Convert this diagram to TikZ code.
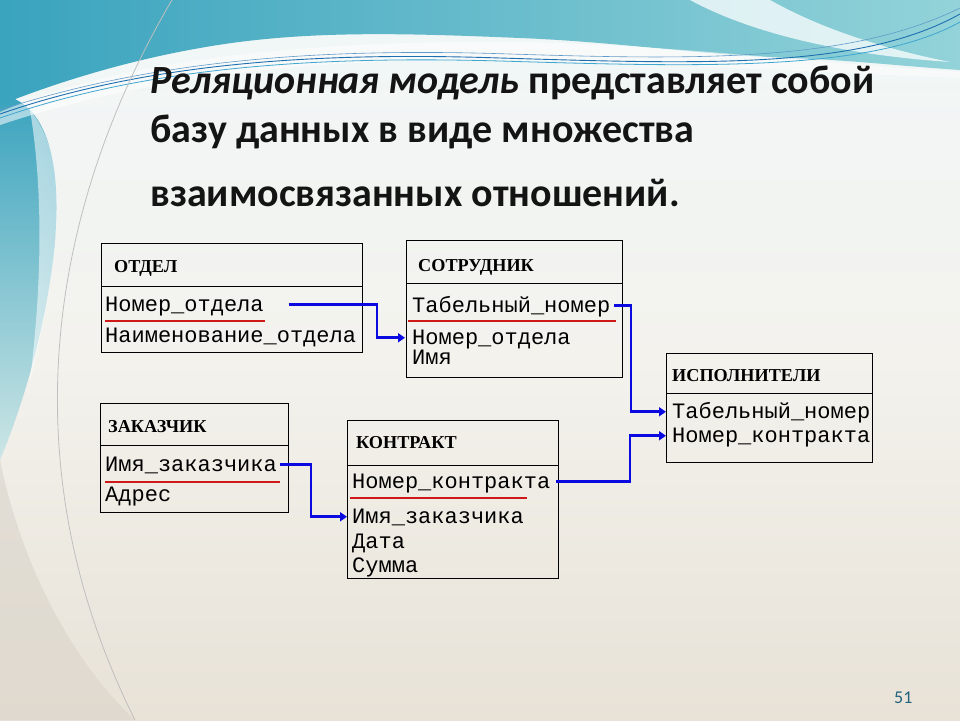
\documentclass[tikz,border=0pt]{standalone}
\usepackage{fontspec}
\setmainfont{Carlito}
\newfontfamily\monof{Liberation Mono}
\newfontfamily\hdrf{Liberation Serif}
\usetikzlibrary{arrows.meta}
\definecolor{tealdark}{HTML}{3AA3BE}
\definecolor{teallight}{HTML}{93D3D9}
\definecolor{bgtop}{HTML}{F1F7F8}
\definecolor{bgmid}{HTML}{F3F2ED}
\definecolor{bgbot}{HTML}{E8E2D7}
\definecolor{wave1}{HTML}{1E6FB0}
\definecolor{wave2}{HTML}{3FA6CF}
\definecolor{linkblue}{HTML}{0A0AE0}
\definecolor{keyred}{HTML}{D01818}
\definecolor{pgcol}{HTML}{22637E}
\begin{document}
\begin{tikzpicture}[x=1pt,y=-1pt,
  tbox/.style={draw=black, line width=1.3pt, anchor=north west, inner sep=0pt},
  sepline/.style={draw=black, line width=0.9pt},
  head/.style={font=\hdrf\bfseries\fontsize{18.2}{20}\selectfont, anchor=base west, inner sep=0pt},
  row/.style={font=\monof\fontsize{22}{24}\selectfont, anchor=base west, inner sep=0pt, text height=12.5pt, text depth=0pt},
  keyline/.style={draw=keyred, line width=1.3pt},
  link/.style={draw=linkblue, line width=2.6pt, -{Triangle[length=7pt,width=9pt]}},
  title/.style={font=\bfseries\fontsize{40}{44}\selectfont, anchor=base west, inner sep=0pt, text=black!92}
]
\useasboundingbox (0,0) rectangle (960,720);
% ---------- background ----------
\shade[top color=bgtop, bottom color=bgbot, middle color=bgmid] (0,0) rectangle (960,720);
% left teal strip
\shade[top color=tealdark, bottom color=teallight!40!bgmid] (0,95) .. controls (45,100) and (62,160) .. (55,240) .. controls (48,320) and (25,400) .. (0,460) -- cycle;
\shade[left color=white, right color=bgtop, opacity=0.55] (30,110) .. controls (55,140) and (62,190) .. (55,240) .. controls (50,300) and (40,340) .. (30,380) .. controls (40,300) and (45,200) .. (30,110) -- cycle;
% lower-left area beyond the arc
\fill[black!6!bgbot, opacity=0.6] (0,460) .. controls (20,560) and (70,660) .. (135,720) -- (0,720) -- cycle;
% top teal band
\shade[left color=tealdark, right color=teallight] (0,0) -- (960,0) -- (960,70) .. controls (900,66) and (850,60) .. (790,58) .. controls (700,55) and (620,42) .. (520,38) .. controls (400,33) and (300,30) .. (200,48) .. controls (120,62) and (50,85) .. (0,105) -- cycle;
% soft white below the band
\fill[white, opacity=0.55] (0,112) .. controls (120,60) and (300,40) .. (520,42) .. controls (680,45) and (820,64) .. (960,72) -- (960,78) .. controls (800,72) and (650,62) .. (500,60) .. controls (320,58) and (150,75) .. (0,125) -- cycle;
% white swoosh top right
\fill[white, opacity=0.75] (690,0) -- (770,0) .. controls (820,28) and (880,48) .. (950,62) .. controls (860,56) and (760,38) .. (690,0) -- cycle;
% thin wave lines
\draw[wave1, line width=0.9pt] (0,114) .. controls (150,62) and (320,52) .. (500,58) .. controls (700,64) and (860,70) .. (960,14);
\draw[wave2, line width=0.8pt] (0,118) .. controls (150,66) and (320,56) .. (500,61) .. controls (700,67) and (870,72) .. (960,22);
\draw[wave1!70, line width=0.6pt] (0,110) .. controls (160,58) and (330,48) .. (510,54) .. controls (700,60) and (850,62) .. (960,8);
% gray arc
\draw[black!25, line width=0.8pt] (172,0) .. controls (60,190) and (0,450) .. (135,720);
% ---------- title ----------
\node[title] (t1) at (150,93) {\textit{Реляционная модель} представляет собой};
\node[title] (t2) at (150,142) {базу данных в виде множества};
\node[title] (t3) at (150,206) {взаимосвязанных отношений.};
% ---------- ОТДЕЛ ----------
\node[tbox, minimum width=261pt, minimum height=109pt] (otdel) at (101,243) {};
\draw[sepline] ([yshift=-43pt]otdel.north west) -- ([yshift=-43pt]otdel.north east);
\node[head] (otdelh) at (114,272) {ОТДЕЛ};
\node[row] (o1) at (105,311) {Номер\_отдела};
\node[row] (o2) at (105,342) {Наименование\_отдела};
\draw[keyline] ([yshift=-10pt]o1.base west) -- ++(160,0);
% ---------- СОТРУДНИК ----------
\node[tbox, minimum width=216pt, minimum height=137pt] (sotr) at (406,240) {};
\draw[sepline] ([yshift=-43pt]sotr.north west) -- ([yshift=-43pt]sotr.north east);
\node[head] (sotrh) at (418,271) {СОТРУДНИК};
\node[row] (s1) at (412,312) {Табельный\_номер};
\node[row] (s2) at (412,344) {Номер\_отдела};
\node[row] (s3) at (412,364) {Имя};
\draw[keyline] ([xshift=-4pt,yshift=-9pt]s1.base west) -- ++(208,0);
% ---------- ЗАКАЗЧИК ----------
\node[tbox, minimum width=188pt, minimum height=109pt] (zak) at (100,403) {};
\draw[sepline] ([yshift=-42pt]zak.north west) -- ([yshift=-42pt]zak.north east);
\node[head] (zakh) at (108,432) {ЗАКАЗЧИК};
\node[row] (z1) at (105,471) {Имя\_заказчика};
\node[row] (z2) at (105,501) {Адрес};
\draw[keyline] ([yshift=-11pt]z1.base west) -- ++(175,0);
% ---------- КОНТРАКТ ----------
\node[tbox, minimum width=211pt, minimum height=158pt] (kontr) at (347,420) {};
\draw[sepline] ([yshift=-45pt]kontr.north west) -- ([yshift=-45pt]kontr.north east);
\node[head] (kontrh) at (356,448) {КОНТРАКТ};
\node[row] (k1) at (352,488) {Номер\_контракта};
\node[row] (k2) at (352,523) {Имя\_заказчика};
\node[row] (k3) at (352,548) {Дата};
\node[row] (k4) at (352,572) {Сумма};
\draw[keyline] ([xshift=-2pt,yshift=-10pt]k1.base west) -- ++(177,0);
% ---------- ИСПОЛНИТЕЛИ ----------
\node[tbox, minimum width=206pt, minimum height=109pt] (isp) at (666,353) {};
\draw[sepline] ([yshift=-40pt]isp.north west) -- ([yshift=-40pt]isp.north east);
\node[head] (isph) at (672,381) {ИСПОЛНИТЕЛИ};
\node[row] (i1) at (672,418) {Табельный\_номер};
\node[row] (i2) at (672,442) {Номер\_контракта};
% ---------- links ----------
\draw[link] ([xshift=25pt]o1.east) -| ([xshift=-35pt]s2.west) -- ([xshift=-7pt]s2.west);
\draw[link] ([xshift=4pt]s1.east) -| ([xshift=-41pt]i1.west) -- ([xshift=-6pt]i1.west);
\draw[link] ([xshift=3pt]z1.east) -| ([xshift=-41pt]k2.west) -- ([xshift=-5pt]k2.west);
\draw[link] ([xshift=6pt]k1.east) -| ([xshift=-42pt]i2.west) -- ([xshift=-6pt]i2.west);
% ---------- page number ----------
\node[font=\fontsize{18}{20}\selectfont, text=pgcol, anchor=base west, inner sep=0pt] (pg) at (894,703) {51};
\end{tikzpicture}
\end{document}
